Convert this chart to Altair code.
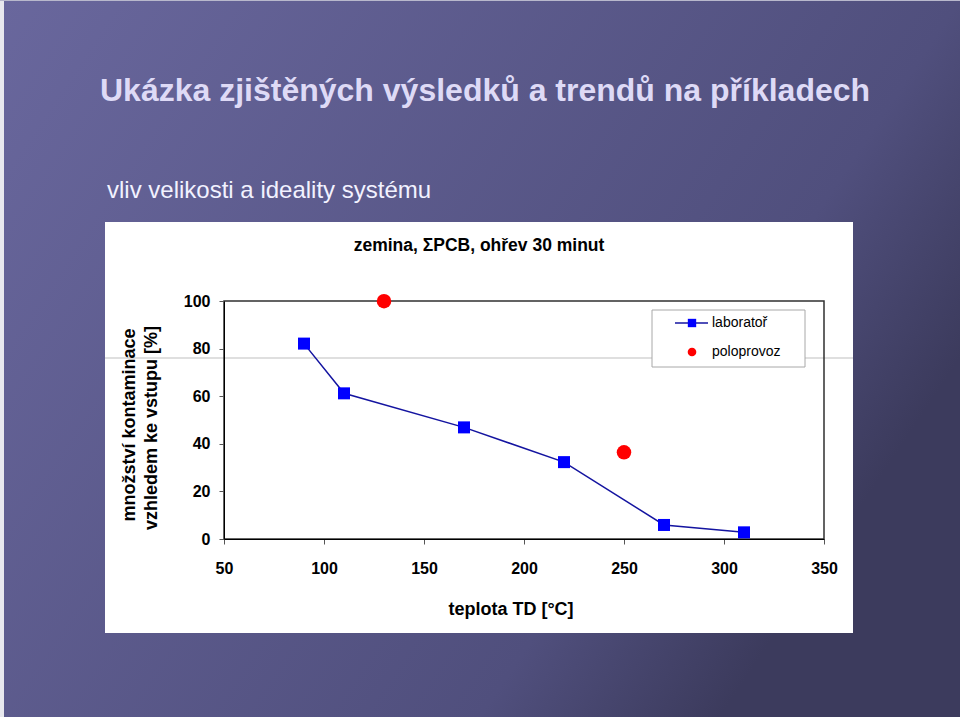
import altair as alt
import pandas as pd

# ---- data ----
lab_temp = [90, 110, 170, 220, 270, 310]
lab_val = [82.1, 61.2, 46.9, 32.3, 5.9, 2.8]
pilot_temp = [130, 250]
pilot_val = [99.9, 36.4]
x_ticks = [50, 100, 150, 200, 250, 300, 350]
y_ticks = [0, 20, 40, 60, 80, 100]

slide_title = "Ukázka zjištěných výsledků a trendů na příkladech"
slide_subtitle = "vliv velikosti a ideality systému"
chart_title = "zemina, ΣPCB, ohřev 30 minut"
x_title = "teplota TD [°C]"
y_title = ["množství kontaminace", "vzhledem ke  vstupu [%]"]
series_names = ["laboratoř", "poloprovoz"]

FONT = "Liberation Sans"
W, H = 600, 238          # plot area
L, T = 224, 301          # plot origin on the page
PW, PH = 960, 717

lab = pd.DataFrame({"t": lab_temp, "v": lab_val})
pilot = pd.DataFrame({"t": pilot_temp, "v": pilot_val})
one = pd.DataFrame({"k": [0]})


def px(x):
    return alt.value(x - L)


def py(y):
    return alt.value(y - T)


x_enc = alt.X(
    "t:Q",
    scale=alt.Scale(domain=[50, 350], nice=False, zero=False),
    axis=alt.Axis(values=x_ticks, title=None, grid=False, tickSize=5,
                  labelPadding=16, zindex=1, domainColor="black",
                  tickColor="#555555", labelFont=FONT, labelFontSize=16,
                  labelFontWeight="bold", labelColor="black",
                  labelFlush=False, labelOverlap=False),
)
y_enc = alt.Y(
    "v:Q",
    scale=alt.Scale(domain=[0, 100], nice=False),
    axis=alt.Axis(values=y_ticks, title=None, grid=False, tickSize=5,
                  labelPadding=9, zindex=1, domainColor="black",
                  tickColor="#555555", labelFont=FONT, labelFontSize=16,
                  labelFontWeight="bold", labelColor="black",
                  labelFlush=False, labelOverlap=False),
)

base = alt.Chart(one)

# slide background
bg = base.mark_rect(
    color=alt.LinearGradient(
        gradient="linear",
        stops=[alt.GradientStop(color="#69679d", offset=0),
               alt.GradientStop(color="#504f7d", offset=0.8),
               alt.GradientStop(color="#3c3b5d", offset=1)],
        x1=0, y1=0, x2=1, y2=0.5,
    )
).encode(x=px(0), x2=px(PW), y=py(0), y2=py(PH))

left_strip = base.mark_rect(color="#e8e8ee").encode(
    x=px(0), x2=px(4), y=py(0), y2=py(PH))
top_strip = base.mark_rect(color="#b8b8cc").encode(
    x=px(0), x2=px(PW), y=py(0), y2=py(1))

panel = base.mark_rect(color="white").encode(
    x=px(105), x2=px(853), y=py(222), y2=py(633))

faint = base.mark_rule(color="#d4d4d4", strokeWidth=1.5).encode(
    x=px(105), x2=px(853), y=py(358))

frame = base.mark_rect(fill=None, stroke="#303030", strokeWidth=1.5).encode(
    x=alt.value(0), x2=alt.value(W), y=alt.value(0), y2=alt.value(H))

line = alt.Chart(lab).mark_line(color="#1414a0", strokeWidth=1.5).encode(
    x=x_enc, y=y_enc)
squares = alt.Chart(lab).mark_point(
    shape="square", filled=True, color="#0000ff", size=144, opacity=1
).encode(x=x_enc, y=y_enc)
circles = alt.Chart(pilot).mark_point(
    shape="circle", filled=True, color="#ff0000", size=210, opacity=1
).encode(x=x_enc, y=y_enc)

# legend
leg_box = base.mark_rect(fill="white", stroke="#a8a8a8", strokeWidth=1).encode(
    x=px(652), x2=px(805), y=py(310), y2=py(367))
leg_line = base.mark_rule(color="#1414a0", strokeWidth=1.5).encode(
    x=px(675), x2=px(708), y=py(323))
leg_sq = base.mark_point(shape="square", filled=True, color="#0000ff",
                         size=70, opacity=1).encode(x=px(692), y=py(323))
leg_ci = base.mark_point(shape="circle", filled=True, color="#ff0000",
                         size=75, opacity=1).encode(x=px(692), y=py(352))
leg_t1 = base.mark_text(text=series_names[0], font=FONT, fontSize=14,
                        align="left", baseline="middle", color="black").encode(
    x=px(712), y=py(323))
leg_t2 = base.mark_text(text=series_names[1], font=FONT, fontSize=14,
                        align="left", baseline="middle", color="black").encode(
    x=px(712), y=py(352))

# texts
t_slide = base.mark_text(text=slide_title, font=FONT, fontSize=32,
                         fontWeight="bold", color="#dedaf6", align="left",
                         baseline="alphabetic").encode(x=px(100), y=py(101))
t_sub = base.mark_text(text=slide_subtitle, font=FONT, fontSize=24,
                       color="#f2f2ff", align="left",
                       baseline="alphabetic").encode(x=px(107), y=py(198))
t_chart = base.mark_text(text=chart_title, font=FONT, fontSize=17.5,
                         fontWeight="bold", color="black", align="center",
                         baseline="middle").encode(x=px(479), y=py(246))
t_x = base.mark_text(text=x_title, font=FONT, fontSize=18, fontWeight="bold",
                     color="black", align="center",
                     baseline="middle").encode(x=px(511), y=py(610))
t_y1 = base.mark_text(text=y_title[0], font=FONT, fontSize=18,
                      fontWeight="bold", color="black", align="center",
                      baseline="middle", angle=270).encode(x=px(130), y=py(425))
t_y2 = base.mark_text(text=y_title[1], font=FONT, fontSize=18,
                      fontWeight="bold", color="black", align="center",
                      baseline="middle", angle=270).encode(x=px(152), y=py(428))

chart = alt.layer(
    bg, left_strip, top_strip, panel, faint, frame,
    line, squares, circles,
    leg_box, leg_line, leg_sq, leg_ci, leg_t1, leg_t2,
    t_slide, t_sub, t_chart, t_x, t_y1, t_y2,
).properties(
    width=W, height=H,
    padding={"left": L, "top": T, "right": PW - L - W, "bottom": PH - T - H},
    autosize=alt.AutoSizeParams(type="none"),
    background="#4f4e7c",
).configure_view(stroke=None)

chart.save("out.html", embed_options={"renderer": "svg", "actions": False})
